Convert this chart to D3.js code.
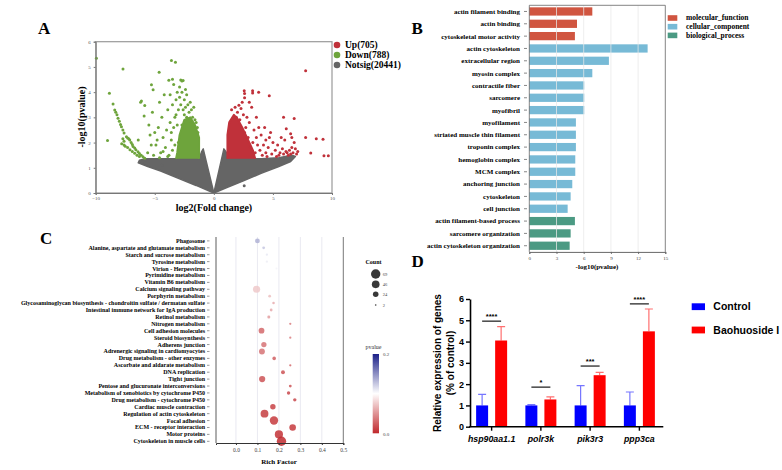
<!DOCTYPE html>
<html>
<head>
<meta charset="utf-8">
<script src="https://cdn.jsdelivr.net/npm/d3@7/dist/d3.min.js"></script>
<style>
body { margin: 0; background: #fff; }
svg { display: block; }
</style>
</head>
<body>
<div id="chart"></div>
<script>
// ---------- Panel A : volcano ----------
var volcanoLegend = ["Up(705)", "Down(788)", "Notsig(20441)"];
// dense clouds (outline vertices, log2FC / -log10 p)
var greyLeft = [[0,0],[-0.9,1.75],[-1.05,1.62],[-1.25,1.36],[-3,1.36],[-5.8,1.36],[-6.3,1.3],[-6.4,1.2],[-5.6,1.05],[-4.5,0.87],[-3,0.58],[-1.5,0.3],[0,0]];
var greyRight = [[0,0],[0.85,1.75],[1.05,1.62],[1.15,1.36],[4,1.36],[5.5,1.4],[6.6,1.5],[6.9,1.45],[6.5,1.25],[5.5,1.05],[4,0.78],[2.5,0.48],[1,0.2],[0,0]];
var greenCore = [[-1.25,1.36],[-1.25,2.2],[-1.6,2.7],[-2.0,3.0],[-2.5,2.9],[-2.9,2.3],[-3.1,1.6],[-3.2,1.36]];
var redCore = [[1.15,1.36],[1.15,2.3],[1.3,2.8],[1.7,3.1],[2.0,2.95],[2.4,2.6],[2.9,2.1],[3.3,1.7],[3.5,1.36]];
var greyPoints = [[2.57,0.29],[-4.4,1.1],[-5.8,1.2]];
var greenPoints = [[-9.94,5.34],[-7.69,4.92],[-3.59,5.25],[-3.25,5.19],[-4.63,4.79],[-8.84,3.96],[-9.0,2.08],[-8.53,3.53],
  [-6.13,3.65],[-5.85,3.47],[-5.28,4.29],[-5.14,4.09],[-3.81,4.47],[-3.5,4.51],[-2.8,4.48],[-2.6,4.46],[-2.7,4.44],
  [-8.39,3.29],[-8.3,3.2],[-8.2,3.1],[-8.11,2.96],[-8.0,2.85],[-7.9,2.72],[-7.82,2.63],[-7.7,2.5],[-7.6,2.38],[-7.4,2.23],
  [-7.3,2.18],[-7.2,2.15],[-7.12,2.1],[-7.0,2.0],[-6.9,1.92],[-6.84,1.84],[-6.7,1.78],[-6.6,1.72],[-6.42,1.64],[-6.3,1.57],
  [-6.15,1.5],[-6.0,1.44],[-5.85,1.38],[-7.8,1.95],[-7.6,1.9],[-7.5,1.85],[-7.3,1.8],[-7.1,1.72],[-6.9,1.65],[-6.7,1.58],
  [-6.5,1.5],[-6.3,1.45],[-7.7,2.15],[-7.6,2.05],
  [-5.9,3.05],[-5.5,2.7],[-5.2,3.2],[-5.0,2.4],[-4.9,1.9],[-4.7,2.6],[-4.6,3.6],[-4.5,1.6],[-4.4,3.0],[-4.3,2.2],[-4.2,3.9],
  [-4.1,1.8],[-4.0,2.5],[-3.9,3.3],[-3.8,1.5],[-3.7,2.8],[-3.7,3.9],[-3.6,2.1],[-3.5,3.5],[-3.5,1.7],[-3.4,2.6],[-3.4,4.3],
  [-3.3,3.0],[-3.3,1.9],[-3.2,3.7],[-3.1,2.7],[-3.1,4.0],[-3.0,3.3],[-3.0,2.0],[-2.9,3.8],[-2.9,4.2],[-2.8,3.5],[-2.7,4.0],
  [-2.6,3.3],[-2.5,3.7],[-2.4,4.1],[-2.4,3.4],[-2.3,3.9],[-2.2,3.5],[-2.1,3.2],[-2.0,3.6],[-1.9,3.3],[-1.8,3.0],[-1.7,3.4],
  [-1.6,2.9],[-1.5,2.8],[-1.4,2.6],[-1.35,2.4],[-5.6,1.6],[-5.3,1.9],[-4.8,2.1],[-6.4,2.1],[-6.2,3.6],[-5.4,2.3],[-4.6,1.4],
  [-5.1,1.5],[-3.9,1.45],[-4.3,1.65],[-3.6,2.4],[-2.5,3.1],[-2.3,3.0],[-1.9,2.8],[-2.7,2.7],[-3.2,3.1]];
var redPoints = [[7.77,4.85],[2.57,4.05],[3.28,4.05],[3.28,3.97],[3.79,4.0],[4.69,3.86],[2.6,3.95],[2.6,3.78],[2.12,3.48],
  [5.9,3.0],[6.8,2.95],[6.13,2.55],[7.77,2.2],[8.67,2.15],[9.24,2.13],[8.2,1.59],[9.32,1.48],[9.69,1.48],
  [2.0,3.2],[2.3,3.35],[1.9,3.0],[2.5,3.1],[2.8,3.0],[3.0,2.8],[3.2,3.4],[2.7,2.6],[3.4,2.5],[3.6,2.2],[3.8,2.6],[4.0,2.3],
  [4.2,1.9],[4.4,2.1],[4.6,1.8],[4.8,2.4],[5.0,2.0],[5.2,1.7],[5.4,1.9],[5.6,1.6],[5.8,1.75],[6.0,2.1],[6.2,1.6],[6.4,1.7],
  [6.6,1.8],[6.8,2.0],[6.7,1.6],[7.0,1.55],[6.5,2.35],[6.6,2.2],[7.1,1.65],[4.1,1.5],[4.5,1.45],[4.9,1.55],[5.3,1.45],
  [3.5,1.6],[3.9,1.7],[3.3,2.0],[3.1,1.8],[2.9,2.2],[4.3,2.6],[3.6,3.0],[3.0,3.6],[2.4,3.6],[5.7,2.2],[6.9,1.75],
  [1.5,3.3],[1.8,3.4],[2.2,2.9],[2.6,2.4],[3.7,1.9],[4.7,2.2],[5.5,1.5],[6.3,1.5],[5.9,1.55],[6.1,1.65],[6.5,1.55],[4.4,1.6]];

// ---------- Panel B : GO terms ----------
var goTerms = ["actin filament binding","actin binding","cytoskeletal motor activity","actin cytoskeleton",
  "extracellular region","myosin complex","contractile fiber","sarcomere","myofibril","myofilament",
  "striated muscle thin filament","troponin complex","hemoglobin complex","MCM complex","anchoring junction",
  "cytoskeleton","cell junction","actin filament-based process","sarcomere organization","actin cytoskeleton organization"];
var goValues = [6.95,5.26,5.03,13.05,8.78,6.95,6.06,6.06,6.06,5.14,5.14,5.14,5.07,5.07,4.74,4.56,4.23,5.03,4.56,4.45];
var goGroup = [0,0,0,1,1,1,1,1,1,1,1,1,1,1,1,1,1,2,2,2];
var goGroupNames = ["molecular_function","cellular_component","biological_process"];
var goTicks = [0,3,6,9,12,15];

// ---------- Panel C : KEGG enrichment ----------
var pathways = ["Phagosome","Alanine, aspartate and glutamate metabolism","Starch and sucrose metabolism",
  "Tyrosine metabolism","Virion - Herpesvirus","Pyrimidine metabolism","Vitamin B6 metabolism",
  "Calcium signaling pathway","Porphyrin metabolism",
  "Glycosaminoglycan biosynthesis - chondroitin sulfate / dermatan sulfate",
  "Intestinal immune network for IgA production","Retinol metabolism","Nitrogen metabolism",
  "Cell adhesion molecules","Steroid biosynthesis","Adherens junction","Adrenergic signaling in cardiomyocytes",
  "Drug metabolism - other enzymes","Ascorbate and aldarate metabolism","DNA replication","Tight junction",
  "Pentose and glucuronate interconversions","Metabolism of xenobiotics by cytochrome P450",
  "Drug metabolism - cytochrome P450","Cardiac muscle contraction","Regulation of actin cytoskeleton",
  "Focal adhesion","ECM - receptor interaction","Motor proteins","Cytoskeleton in muscle cells"];
var richFactor = [0.100,0.129,0.144,0.144,0.189,0.124,0.288,0.096,0.157,0.175,0.164,0.153,0.253,0.119,0.253,
  0.130,0.121,0.178,0.253,0.219,0.122,0.253,0.245,0.274,0.172,0.133,0.177,0.264,0.200,0.212];
var geneCount = [18,6,4,4,3,5,2,40,6,5,6,7,4,26,4,22,27,10,4,12,30,6,9,9,23,48,55,34,52,69];
var pValue = [0.135,0.125,0.11,0.108,0.105,0.1,0.1,0.075,0.07,0.062,0.06,0.055,0.04,0.03,0.04,0.035,0.035,
  0.025,0.03,0.02,0.02,0.02,0.015,0.015,0.012,0.01,0.008,0.008,0.005,0.002];
var richTicks = [0,0.1,0.2,0.3,0.4,0.5];
var countLegend = [69,46,24,2];

// ---------- Panel D : qPCR ----------
var genes = ["hsp90aa1.1","polr3k","pik3r3","ppp3ca"];
var groups = ["Control","Baohuoside I"];
var controlMean = [1.0,1.0,1.0,1.0];
var controlErr = [0.52,0.04,0.93,0.63];
var treatMean = [4.05,1.28,2.42,4.48];
var treatErr = [0.65,0.12,0.13,1.05];
var sigMarks = ["****","*","***","****"];
var sigHeight = [4.96,1.86,2.85,5.77];

function init(){
    var w = 782, h = 470;
    var serif = "'Liberation Serif','Times New Roman',serif";
    var sans = "'Liberation Sans',Arial,sans-serif";

    var svg = d3.select("#chart").append("svg")
        .attr("width", w).attr("height", h);

    // panel letters
    var letters = [["A",38,33.5],["B",411.5,33.5],["C",40,243.5],["D",411.5,266.5]];
    svg.selectAll(".letter").data(letters).enter().append("text")
        .attr("class","letter")
        .attr("x", function(d){ return d[1]; })
        .attr("y", function(d){ return d[2]; })
        .text(function(d){ return d[0]; })
        .attr("font-family", serif).attr("font-weight","bold").attr("font-size","17px");

    // ================= A =================
    var xA = d3.scaleLinear().domain([-10,10]).range([95.7,332]);
    var yA = d3.scaleLinear().domain([0,6]).range([193,41.7]);
    var gA = svg.append("g");
    var lineA = d3.line().x(function(d){ return xA(d[0]); }).y(function(d){ return yA(d[1]); });

    gA.append("rect").attr("x", xA(-10)).attr("y", yA(6))
        .attr("width", xA(10)-xA(-10)).attr("height", yA(0)-yA(6))
        .attr("fill","none").attr("stroke","#9a9a9a").attr("stroke-width",1.2);

    [greyLeft, greyRight].forEach(function(poly){
        gA.append("path").datum(poly).attr("d", lineA).attr("fill","#656565")
          .attr("stroke","#656565").attr("stroke-width",1.5).attr("stroke-linejoin","round");
    });
    gA.append("path").datum(greenCore).attr("d", lineA).attr("fill","#6ea43c")
        .attr("stroke","#6ea43c").attr("stroke-width",2).attr("stroke-linejoin","round");
    gA.append("path").datum(redCore).attr("d", lineA).attr("fill","#c0313a")
        .attr("stroke","#c0313a").attr("stroke-width",2).attr("stroke-linejoin","round");

    function dots(data, color){
        gA.append("g").selectAll("circle").data(data).enter().append("circle")
            .attr("cx", function(d){ return xA(d[0]); })
            .attr("cy", function(d){ return yA(d[1]); })
            .attr("r", 1.5).attr("fill", color);
    }
    dots(greyPoints, "#656565");
    dots(greenPoints, "#6ea43c");
    dots(redPoints, "#c0313a");

    var axA = gA.append("g").attr("transform","translate(0,193)")
        .call(d3.axisBottom(xA).tickValues([-10,-5,0,5,10]).tickSize(2).tickPadding(1.5));
    var ayA = gA.append("g").attr("transform","translate(95.7,0)")
        .call(d3.axisLeft(yA).ticks(6).tickSize(2));
    [axA, ayA].forEach(function(a){
        a.selectAll("path").attr("stroke","#777");
        a.selectAll("line").attr("stroke","#777");
        a.selectAll("text").attr("font-family", serif).attr("font-size","5px").attr("fill","#555");
    });
    gA.append("text").attr("x",214).attr("y",211).attr("text-anchor","middle")
        .attr("font-family",serif).attr("font-weight","bold").attr("font-size","10px")
        .text("log2(Fold change)");
    gA.append("text").attr("transform","translate(85,117) rotate(-90)").attr("text-anchor","middle")
        .attr("font-family",serif).attr("font-weight","bold").attr("font-size","10px")
        .text("-log10(pvalue)");

    var legA = gA.selectAll(".legA").data(volcanoLegend).enter().append("g")
        .attr("transform", function(d,i){ return "translate(337," + (45 + i*10) + ")"; });
    legA.append("circle").attr("r",3.3)
        .attr("fill", function(d,i){ return ["#c0313a","#6ea43c","#656565"][i]; });
    legA.append("text").attr("x",8).attr("y",3.3).text(function(d){ return d; })
        .attr("font-family",serif).attr("font-weight","bold").attr("font-size","9.5px");

    // ================= B =================
    var goColors = ["#d05540","#77bad6","#4b9a83"];
    var xB = d3.scaleLinear().domain([0,15]).range([529.3,665.3]);
    var yB = d3.scaleBand().domain(goTerms).range([5.3,251.9]).paddingInner(0.33).paddingOuter(0.165);
    var gB = svg.append("g");

    gB.selectAll(".barB").data(goValues).enter().append("rect")
        .attr("x", xB(0))
        .attr("y", function(d,i){ return yB(goTerms[i]); })
        .attr("width", function(d){ return xB(d) - xB(0); })
        .attr("height", yB.bandwidth())
        .attr("fill", function(d,i){ return goColors[goGroup[i]]; });
    gB.selectAll(".gridB").data([3,6,9,12]).enter().append("line")
        .attr("x1", function(d){ return xB(d); }).attr("x2", function(d){ return xB(d); })
        .attr("y1",5.3).attr("y2",251.9)
        .attr("stroke","#e8e8e8").attr("stroke-opacity",0.75).attr("stroke-width",1);
    // frame
    gB.append("path").attr("d","M"+xB(0)+",5.3H"+xB(15)+"V251.9")
        .attr("fill","none").attr("stroke","#666").attr("stroke-width",0.8);
    gB.append("line").attr("x1",xB(0)).attr("x2",xB(0)).attr("y1",5.3).attr("y2",251.9)
        .attr("stroke","#666").attr("stroke-width",0.8);

    var axB = gB.append("g").attr("transform","translate(0,251.9)")
        .call(d3.axisBottom(xB).tickValues(goTicks).tickSize(2));
    axB.selectAll("path").attr("stroke","#666");
    axB.selectAll("line").attr("stroke","#666");
    axB.selectAll("text").attr("font-family",serif).attr("font-size","5px").attr("fill","#444");

    gB.selectAll(".tickB").data(goTerms).enter().append("line")
        .attr("x1",524).attr("x2",527)
        .attr("y1", function(d){ return yB(d) + yB.bandwidth()/2; })
        .attr("y2", function(d){ return yB(d) + yB.bandwidth()/2; })
        .attr("stroke","#555").attr("stroke-width",0.7);
    gB.selectAll(".labB").data(goTerms).enter().append("text")
        .attr("x",520)
        .attr("y", function(d){ return yB(d) + yB.bandwidth()/2 + 2.4; })
        .attr("text-anchor","end")
        .attr("font-family",serif).attr("font-weight","bold").attr("font-size","7px")
        .text(function(d){ return d; });
    gB.append("text").attr("x",597).attr("y",269).attr("text-anchor","middle")
        .attr("font-family",serif).attr("font-weight","bold").attr("font-size","7px")
        .text("-log10(pvalue)");

    var legB = gB.selectAll(".legB").data(goGroupNames).enter().append("g")
        .attr("transform", function(d,i){ return "translate(667.7," + (18 + i*8.7) + ")"; });
    legB.append("rect").attr("x",0).attr("y",-2.8).attr("width",9.6).attr("height",5.6)
        .attr("fill", function(d,i){ return goColors[i]; });
    legB.append("text").attr("x",18.3).attr("y",2.4).text(function(d){ return d; })
        .attr("font-family",serif).attr("font-weight","bold").attr("font-size","7.5px");

    // ================= C =================
    var xC = d3.scaleLinear().domain([-0.093,0.5]).range([216,343.3]);
    var yC = d3.scalePoint().domain(pathways).range([240.9,441.3]);
    var rC = d3.scaleSqrt().domain([0,69]).range([0,4.7]);
    var cC = d3.scaleLinear().domain([0,0.1,0.2]).range(["#c0282c","#ffffff","#1b2088"]);
    var gC = svg.append("g");
    var topC = 237, botC = 443;

    gC.selectAll(".gridC").data([0,0.1,0.2,0.3,0.4]).enter().append("line")
        .attr("x1", function(d){ return xC(d); }).attr("x2", function(d){ return xC(d); })
        .attr("y1",topC).attr("y2",botC)
        .attr("stroke","#e3e3ee").attr("stroke-width",0.8);

    gC.selectAll(".dotC").data(pathways).enter().append("circle")
        .attr("cx", function(d,i){ return xC(richFactor[i]); })
        .attr("cy", function(d){ return yC(d); })
        .attr("r", function(d,i){ return rC(geneCount[i]); })
        .attr("fill", function(d,i){ return cC(pValue[i]); })
        .attr("fill-opacity",0.85);

    gC.append("line").attr("x1",216).attr("x2",216).attr("y1",topC).attr("y2",botC)
        .attr("stroke","#333").attr("stroke-width",0.8);
    gC.append("line").attr("x1",343.3).attr("x2",343.3).attr("y1",topC).attr("y2",botC)
        .attr("stroke","#555").attr("stroke-width",0.8);
    var axC = gC.append("g").attr("transform","translate(0," + botC + ")")
        .call(d3.axisBottom(xC).tickValues(richTicks).tickFormat(d3.format(".1f")).tickSize(2));
    axC.selectAll("path").attr("stroke","#333");
    axC.selectAll("line").attr("stroke","#333");
    axC.selectAll("text").attr("font-family",serif).attr("font-size","5.5px").attr("fill","#444");

    gC.selectAll(".tickC").data(pathways).enter().append("line")
        .attr("x1",207).attr("x2",209.5)
        .attr("y1", function(d){ return yC(d); }).attr("y2", function(d){ return yC(d); })
        .attr("stroke","#555").attr("stroke-width",0.6);
    gC.selectAll(".labC").data(pathways).enter().append("text")
        .attr("x",205)
        .attr("y", function(d){ return yC(d) + 2; })
        .attr("text-anchor","end")
        .attr("font-family",serif).attr("font-weight","bold").attr("font-size","6px")
        .text(function(d){ return d; });
    gC.append("text").attr("x",279).attr("y",464).attr("text-anchor","middle")
        .attr("font-family",serif).attr("font-weight","bold").attr("font-size","7px")
        .text("Rich Factor");

    // count legend
    gC.append("text").attr("x",373.5).attr("y",264).attr("text-anchor","middle")
        .attr("font-family",serif).attr("font-weight","bold").attr("font-size","6px").text("Count");
    var legC = gC.selectAll(".legC").data(countLegend).enter().append("g")
        .attr("transform", function(d,i){ return "translate(375.7," + [274,284.3,294.3,305][i] + ")"; });
    legC.append("circle").attr("r", function(d){ return rC(d); }).attr("fill","#222").attr("fill-opacity",0.9);
    legC.append("text").attr("x",7).attr("y",1.7).text(function(d){ return d; })
        .attr("font-family",serif).attr("font-size","4.5px").attr("fill","#444");

    // pvalue legend
    var defs = svg.append("defs");
    var grad = defs.append("linearGradient").attr("id","pgrad")
        .attr("x1","0").attr("y1","1").attr("x2","0").attr("y2","0");
    grad.selectAll("stop").data([0,0.1,0.2]).enter().append("stop")
        .attr("offset", function(d){ return (d/0.2*100) + "%"; })
        .attr("stop-color", function(d){ return cC(d); });
    gC.append("text").attr("x",373.5).attr("y",349).attr("text-anchor","middle")
        .attr("font-family",serif).attr("font-size","6px").attr("fill","#333").text("pvalue");
    gC.append("rect").attr("x",372.7).attr("y",354).attr("width",6.3).attr("height",79.3)
        .attr("fill","url(#pgrad)");
    gC.selectAll(".plab").data([["0.2",356],["0.0",435.5]]).enter().append("text")
        .attr("x",383).attr("y", function(d){ return d[1]; }).text(function(d){ return d[0]; })
        .attr("font-family",serif).attr("font-size","5px").attr("fill","#444");

    // ================= D =================
    var yD = d3.scaleLinear().domain([0,6]).range([426.7,299]);
    var xD = d3.scaleBand().domain(genes).range([467,664]);
    var xSub = d3.scaleBand().domain(groups).range([-15.5,15.5]).paddingInner(0.37);
    var gD = svg.append("g");
    var barCol = ["#0000ff","#ff0000"];
    var errCol = ["#7676ff","#ff7070"];

    var rows = genes.map(function(g,i){
        return [{gene:g, grp:0, mean:controlMean[i], err:controlErr[i]},
                {gene:g, grp:1, mean:treatMean[i], err:treatErr[i]}];
    });
    var flat = [].concat.apply([], rows);
    function bx(d){ return xD(d.gene) + xD.bandwidth()/2 + xSub(groups[d.grp]); }

    gD.selectAll(".errD").data(flat).enter().append("path")
        .attr("d", function(d){
            var cx = bx(d) + xSub.bandwidth()/2;
            return "M" + cx + "," + yD(d.mean) + "V" + yD(d.mean + d.err) + "M" + (cx-4) + "," + yD(d.mean + d.err) + "H" + (cx+4);
        })
        .attr("fill","none").attr("stroke", function(d){ return errCol[d.grp]; }).attr("stroke-width",1.2);
    gD.selectAll(".barD").data(flat).enter().append("rect")
        .attr("x", bx)
        .attr("y", function(d){ return yD(d.mean); })
        .attr("width", xSub.bandwidth())
        .attr("height", function(d){ return yD(0) - yD(d.mean); })
        .attr("fill", function(d){ return barCol[d.grp]; });

    var ayD = gD.append("g").attr("transform","translate(470,0)")
        .call(d3.axisLeft(yD).ticks(6).tickSize(4).tickSizeOuter(0));
    ayD.selectAll("path").attr("stroke","#000").attr("stroke-width",1.6);
    ayD.selectAll("line").attr("stroke","#000").attr("stroke-width",1.4);
    ayD.selectAll("text").attr("font-family",sans).attr("font-weight","bold").attr("font-size","9px").attr("x",-6);

    gD.append("line").attr("x1",469.2).attr("x2",663.3).attr("y1",yD(0)).attr("y2",yD(0))
        .attr("stroke","#000").attr("stroke-width",1.6);
    gD.selectAll(".tickD").data(genes).enter().append("line")
        .attr("x1", function(d){ return xD(d) + xD.bandwidth()/2; })
        .attr("x2", function(d){ return xD(d) + xD.bandwidth()/2; })
        .attr("y1", yD(0)).attr("y2", yD(0) + 4)
        .attr("stroke","#000").attr("stroke-width",1.4);
    gD.selectAll(".labD").data(genes).enter().append("text")
        .attr("x", function(d){ return xD(d) + xD.bandwidth()/2; })
        .attr("y", 441.5).attr("text-anchor","middle")
        .attr("font-family",sans).attr("font-weight","bold").attr("font-style","italic").attr("font-size","8.8px")
        .text(function(d){ return d; });

    // significance
    gD.selectAll(".sigLine").data(genes).enter().append("line")
        .attr("x1", function(d){ return xD(d) + xD.bandwidth()/2 - 9.5; })
        .attr("x2", function(d){ return xD(d) + xD.bandwidth()/2 + 9.5; })
        .attr("y1", function(d,i){ return yD(sigHeight[i]); })
        .attr("y2", function(d,i){ return yD(sigHeight[i]); })
        .attr("stroke","#000").attr("stroke-width",1.1);
    gD.selectAll(".sigTxt").data(sigMarks).enter().append("text")
        .attr("x", function(d,i){ return xD(genes[i]) + xD.bandwidth()/2; })
        .attr("y", function(d,i){ return yD(sigHeight[i]) - 2; })
        .attr("text-anchor","middle")
        .attr("font-family",sans).attr("font-weight","bold").attr("font-size","7.5px")
        .text(function(d){ return d; });

    gD.append("text").attr("transform","translate(440.5,363) rotate(-90)").attr("text-anchor","middle")
        .attr("font-family",sans).attr("font-weight","bold").attr("font-size","10px")
        .text("Relative expression of genes");
    gD.append("text").attr("transform","translate(453.5,363) rotate(-90)").attr("text-anchor","middle")
        .attr("font-family",sans).attr("font-weight","bold").attr("font-size","10px")
        .text("(% of control)");

    var legD = gD.selectAll(".legD").data(groups).enter().append("g")
        .attr("transform", function(d,i){ return "translate(691.7," + (306.7 + i*23.3) + ")"; });
    legD.append("rect").attr("x",0).attr("y",-3.4).attr("width",13.3).attr("height",6.8)
        .attr("fill", function(d,i){ return barCol[i]; });
    legD.append("text").attr("x",21.6).attr("y",3.6).text(function(d){ return d; })
        .attr("font-family",sans).attr("font-weight","bold").attr("font-size","10.5px");
}

window.onload = init;
</script>
</body>
</html>
